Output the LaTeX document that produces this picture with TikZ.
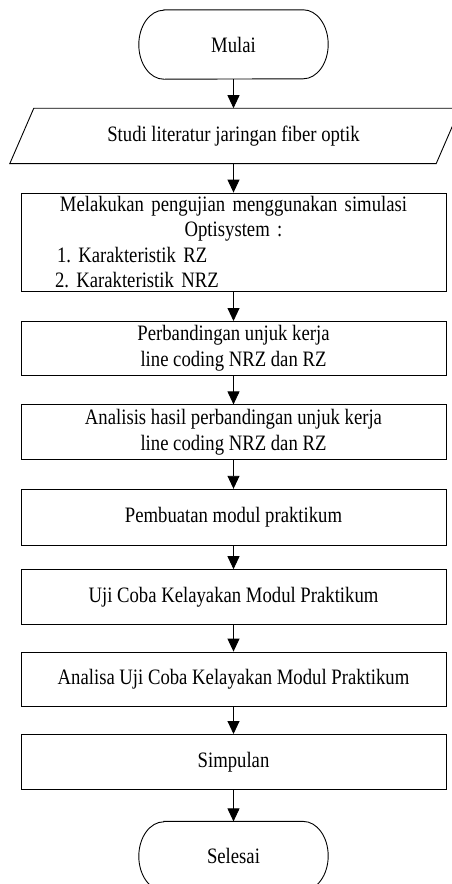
\documentclass[tikz,border=0pt]{standalone}
\usepackage{fontspec}
\setmainfont{Liberation Serif}[FakeStretch=0.85]
\usetikzlibrary{arrows.meta,positioning}
\frenchspacing
\newcommand{\myunit}{425pt}
\newcommand{\myfont}{\fontsize{22}{25.5}\selectfont}
\tikzset{
    termsty/.style={rectangle,minimum width=189pt,minimum height=69pt,inner sep=0pt,font=\myfont},
    datasty/.style={rectangle,minimum width=426pt,minimum height=55pt,inner sep=0pt,font=\myfont},
    procsty/.style={draw,rectangle,minimum width=\myunit,minimum height=55pt,inner sep=0pt,align=center,font=\myfont},
    linesty/.style={->,line width=0.9pt},
}
\newcommand{\termbox}[1]{\draw[line width=0.9pt] ([xshift=25pt]#1.north west) -- ([xshift=-25pt]#1.north east) arc[start angle=90,end angle=-90,x radius=25pt,y radius=34.5pt] -- ([xshift=25pt]#1.south west) arc[start angle=270,end angle=90,x radius=25pt,y radius=34.5pt] -- cycle;}
\newcommand{\databox}[1]{\draw[line width=0.9pt] ([xshift=-10.5pt]#1.south west) -- ([xshift=-10.5pt]#1.south east) -- ([xshift=13.5pt]#1.north east) -- ([xshift=13.5pt]#1.north west) -- cycle;}

\begin{document}
\begin{tikzpicture}[>={Triangle[length=13pt,width=12pt]}]
\useasboundingbox (0,0) rectangle (451pt,-884pt);
\node[termsty] (mulai) at (233.5pt,-44.5pt) {Mulai};
\node[datasty,below=29pt of mulai] (studi) {Studi literatur jaringan fiber optik};
\node[procsty,below=29pt of studi,minimum height=98pt,text width=\myunit] (uji)
  {Melakukan pengujian menggunakan simulasi\\
   Optisystem :\\
   \makebox[\linewidth][l]{\hspace{36pt}1. Karakteristik RZ}\\
   \makebox[\linewidth][l]{\hspace{34pt}2. Karakteristik NRZ}};
\node[procsty,below=30pt of uji,minimum height=54pt] (banding) {Perbandingan unjuk kerja\\ line coding NRZ dan RZ};
\node[procsty,below=29pt of banding] (analisis) {Analisis hasil perbandingan unjuk kerja\\ line coding NRZ dan RZ};
\node[procsty,below=29pt of analisis,minimum height=56pt] (modul) {Pembuatan modul praktikum};
\node[procsty,below=24pt of modul] (ujicoba) {Uji Coba Kelayakan Modul Praktikum};
\node[procsty,below=27pt of ujicoba,minimum height=54pt] (analisa) {Analisa Uji Coba Kelayakan Modul Praktikum};
\node[procsty,below=28pt of analisa] (simpulan) {Simpulan};
\node[termsty,below=32pt of simpulan] (selesai) {Selesai};
\termbox{mulai}
\termbox{selesai}
\databox{studi}
\foreach \a/\b in {mulai/studi,studi/uji,uji/banding,banding/analisis,analisis/modul,modul/ujicoba,ujicoba/analisa,analisa/simpulan,simpulan/selesai}
  \draw[linesty] (\a) -- (\b);
\end{tikzpicture}
\end{document}
